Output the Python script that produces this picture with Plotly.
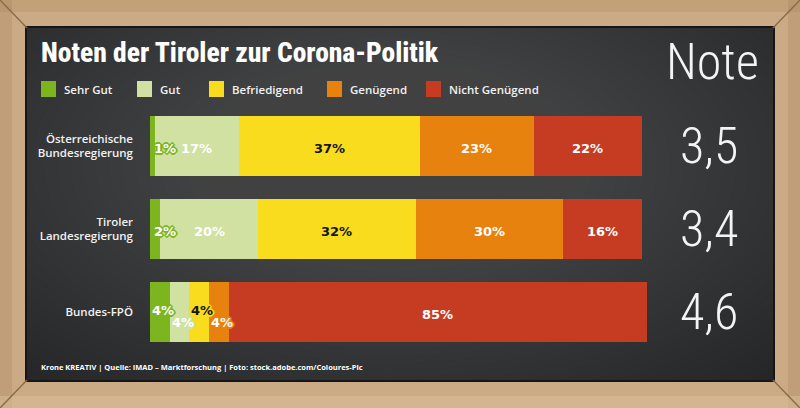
import plotly.graph_objects as go

# ---------------- data ----------------
categories = ["Österreichische<br>Bundesregierung", "Tiroler<br>Landesregierung", "Bundes-FPÖ"]
grade_names = ["Sehr Gut", "Gut", "Befriedigend", "Genügend", "Nicht Genügend"]
sehr_gut = [1, 2, 4]
gut = [17, 20, 4]
befriedigend = [37, 32, 4]
genuegend = [23, 30, 4]
nicht_genuegend = [22, 16, 85]
noten = ["3,5", "3,4", "4,6"]

series = [sehr_gut, gut, befriedigend, genuegend, nicht_genuegend]
colors = ["#7db51f", "#d0e1a2", "#f8dc1d", "#e8820f", "#c53c23"]
text_colors = ["#ffffff", "#ffffff", "#141414", "#ffffff", "#ffffff"]

W, H = 800, 408
def px(x):
    return x / W
def py(y):
    return 1 - y / H

fig = go.Figure()
for name, vals, col in zip(grade_names, series, colors):
    fig.add_trace(go.Bar(
        y=categories, x=vals, name=name, orientation="h",
        marker=dict(color=col, line=dict(width=0)),
        showlegend=False, hoverinfo="x+name",
    ))

# ---------------- bar value labels ----------------
annotations = []
for ci, cat in enumerate(categories):
    start = 0
    small_count = 0
    for si, vals in enumerate(series):
        v = vals[ci]
        col = colors[si]
        outline = ", ".join(f"{dx}px {dy}px 0 {col}" for dx, dy in
                            [(1, 0), (-1, 0), (0, 1), (0, -1), (1, 1), (-1, -1), (1, -1), (-1, 1),
                             (2, 0), (-2, 0), (0, 2), (0, -2)])
        ann = dict(x=start + v / 2, y=cat, xref="x", yref="y", text=f"{v}%",
                   showarrow=False, xanchor="center", yanchor="middle", yshift=-2,
                   font=dict(family="DejaVu Sans", size=13, weight=700,
                             color=text_colors[si], shadow=outline))
        if v < 3:
            ann.update(x=start, xanchor="left", xshift=2)
        elif v < 8:
            ann.update(xshift=3, yshift=2 if small_count % 2 == 0 else -10)
            small_count += 1
        annotations.append(ann)
        start += v

# ---------------- grade column ----------------
annotations.append(dict(x=px(712), y=py(62), xref="paper", yref="paper", text="Note",
                        showarrow=False, xanchor="center", yanchor="middle",
                        font=dict(family="Roboto Condensed", size=50, weight=300, color="#f4f4f4")))
for cat, n in zip(categories, noten):
    annotations.append(dict(x=px(709), y=cat, xref="paper", yref="y", text=n,
                            showarrow=False, xanchor="center", yanchor="middle", yshift=0,
                            font=dict(family="Roboto Condensed", size=50, weight=300, color="#f4f4f4")))

# ---------------- title, legend, footer ----------------
annotations.append(dict(x=px(39), y=py(52), xref="paper", yref="paper",
                        text="Noten der Tiroler zur Corona-Politik", showarrow=False,
                        xanchor="left", yanchor="middle",
                        font=dict(family="Roboto Condensed", size=27.5, weight=800, color="#ffffff")))

legend_x = [41, 137, 209, 327, 426]
shapes = []
WOOD = "#cbab86"
# board base
shapes.append(dict(type="rect", xref="paper", yref="paper", x0=px(26), x1=px(774),
                   y0=py(381), y1=py(27), fillcolor="#222324",
                   line=dict(width=0), layer="below"))
# soft lighter centre: many faint stacked ellipses for a smooth chalk-smudge gradient
n_steps = 36
for i in range(n_steps):
    rx = 580 - i * 13
    ry = 310 - i * 7
    cx, cy = 390, 165
    shapes.append(dict(type="circle", xref="paper", yref="paper",
                       x0=px(cx - rx), x1=px(cx + rx), y0=py(cy + ry), y1=py(cy - ry),
                       fillcolor="#6a6b6c", opacity=0.03, line=dict(width=0), layer="below"))
# wooden frame drawn over the board overflow
shapes.append(dict(type="path", xref="paper", yref="paper",
                   path=(f"M0,0 L1,0 L1,1 L0,1 Z M{px(26)},{py(381)} L{px(26)},{py(27)} "
                         f"L{px(774)},{py(27)} L{px(774)},{py(381)} Z"),
                   fillcolor=WOOD, fillrule="evenodd", line=dict(width=0), layer="below"))
shapes.append(dict(type="rect", xref="paper", yref="paper", x0=0, x1=1, y0=py(12), y1=1,
                   fillcolor="#b8946b", opacity=0.45, line=dict(width=0), layer="below"))
shapes.append(dict(type="rect", xref="paper", yref="paper", x0=0, x1=px(12), y0=0, y1=1,
                   fillcolor="#a98660", opacity=0.35, line=dict(width=0), layer="below"))
shapes.append(dict(type="rect", xref="paper", yref="paper", x0=px(788), x1=1, y0=0, y1=1,
                   fillcolor="#a98660", opacity=0.35, line=dict(width=0), layer="below"))
shapes.append(dict(type="rect", xref="paper", yref="paper", x0=0, x1=1, y0=0, y1=py(396),
                   fillcolor="#dcc09c", opacity=0.5, line=dict(width=0), layer="below"))
shapes.append(dict(type="rect", xref="paper", yref="paper", x0=px(26), x1=px(774),
                   y0=py(381), y1=py(27), fillcolor="rgba(0,0,0,0)",
                   line=dict(color="#161616", width=2), layer="below"))
for (x0, y0, x1, y1) in [(0, 0, 27, 28), (800, 0, 773, 28), (0, 408, 27, 380), (800, 408, 773, 380)]:
    shapes.append(dict(type="line", xref="paper", yref="paper", x0=px(x0), y0=py(y0),
                       x1=px(x1), y1=py(y1), line=dict(color="#8c6c4a", width=1.5), layer="below"))

for name, col, lx in zip(grade_names, colors, legend_x):
    shapes.append(dict(type="rect", xref="paper", yref="paper", x0=px(lx), x1=px(lx + 15),
                       y0=py(97), y1=py(81), fillcolor=col, line=dict(width=0)))
    annotations.append(dict(x=px(lx + 21), y=py(89), xref="paper", yref="paper", text=name,
                            showarrow=False, xanchor="left", yanchor="middle",
                            font=dict(family="Open Sans", size=11.5, weight=600, color="#f2f2f2")))

annotations.append(dict(x=px(39), y=py(367), xref="paper", yref="paper",
                        text="<b>Krone</b> KREATIV | Quelle: IMAD – Marktforschung | Foto: stock.adobe.com/Coloures-Pic",
                        showarrow=False, xanchor="left", yanchor="middle",
                        font=dict(family="Open Sans", size=7.5, weight=700, color="#ffffff")))

scale = 4.917  # px per percent
x_max = 102
fig.update_layout(
    width=W, height=H, margin=dict(l=0, r=0, t=0, b=0),
    paper_bgcolor=WOOD, plot_bgcolor="rgba(0,0,0,0)",
    barmode="stack", bargap=0.277,
    xaxis=dict(domain=[px(150), px(150 + x_max * scale)], range=[0, x_max],
               showgrid=False, zeroline=False, showticklabels=False, showline=False),
    yaxis=dict(domain=[py(353.5), py(104.5)], range=[2.5, -0.5], type="category",
               showgrid=False, zeroline=False, showline=False, ticks="",
               ticklabelstandoff=16,
               tickfont=dict(family="Open Sans", size=11.5, weight=600, color="#f2f2f2")),
    annotations=annotations, shapes=shapes,
)
fig.write_html("out.html", config={"displayModeBar": False},
               post_script="document.body.style.margin='0';document.body.style.overflow='hidden';")
